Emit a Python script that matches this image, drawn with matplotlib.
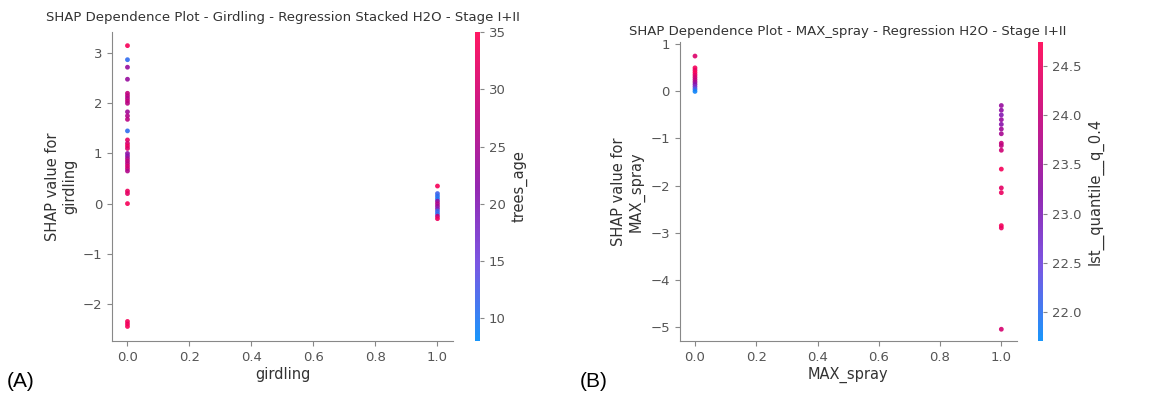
import numpy as np
import matplotlib
matplotlib.use('Agg')
import matplotlib.pyplot as plt
from matplotlib.colors import LinearSegmentedColormap

# ---- Panel A data: girdling vs SHAP, coloured by trees_age
a_x = [0.0] * 31 + [1.0] * 12
a_shap = [3.15, 2.87, 2.72, 2.48, 2.20, 2.15, 2.10, 2.05, 2.00, 1.83, 1.75, 1.68,
          1.45, 1.27, 1.20, 1.15, 1.10, 1.00, 0.95, 0.90, 0.85, 0.80, 0.75, 0.70,
          0.65, 0.25, 0.20, 0.00, -2.35, -2.40, -2.45,
          0.35, 0.20, 0.15, 0.10, 0.05, 0.00, -0.05, -0.10, -0.15, -0.20, -0.25, -0.30]
a_age = [34, 11, 23, 23, 28, 27, 26, 28, 27, 24, 26, 27,
         11, 32, 30, 33, 31, 22, 21, 25, 28, 27, 30, 29,
         26, 33, 32, 34, 34, 33, 34,
         34, 12, 11, 10, 22, 26, 24, 20, 12, 11, 28, 33]

# ---- Panel B data: MAX_spray vs SHAP, coloured by lst__quantile__q_0.4
b_x = [0.0] * 12 + [1.0] * 16
b_shap = [0.75, 0.50, 0.45, 0.40, 0.35, 0.30, 0.25, 0.20, 0.15, 0.10, 0.05, 0.00,
          -0.30, -0.40, -0.50, -0.60, -0.70, -0.80, -0.90, -1.10, -1.15, -1.25,
          -1.65, -2.05, -2.15, -2.85, -2.90, -5.05]
b_lst = [24.3, 24.6, 24.5, 24.7, 24.4, 24.2, 24.0, 23.6, 23.2, 22.8, 22.2, 21.8,
         23.4, 23.3, 23.1, 23.4, 23.2, 23.5, 23.6, 24.0, 23.9, 24.1,
         24.6, 24.4, 24.5, 24.6, 24.5, 24.2]

# shap-like red/blue colormap
red_blue = LinearSegmentedColormap.from_list(
    'red_blue', ['#008bfb', '#6c44e0', '#8a10a8', '#c4007a', '#ff0052'])

fig = plt.figure(figsize=(11.52, 3.93), dpi=100)

txt = '#333333'
tick_c = '#555555'


def dep_plot(ax_pos, cb_pos, x, y, c, vmin, vmax, ylim, yticks, cticks,
             title, xlabel, ylabel, clabel, panel, panel_x, title_pad):
    ax = fig.add_axes(ax_pos)
    sc = ax.scatter(x, y, c=c, cmap=red_blue, vmin=vmin, vmax=vmax,
                    s=12, linewidths=0, alpha=0.9)
    ax.set_xlim(-0.05, 1.05)
    ax.set_ylim(*ylim)
    ax.set_xticks([0.0, 0.2, 0.4, 0.6, 0.8, 1.0])
    ax.set_yticks(yticks)
    for s in ['top', 'right']:
        ax.spines[s].set_visible(False)
    for s in ['left', 'bottom']:
        ax.spines[s].set_color('#888888')
    ax.tick_params(colors='#888888', labelcolor=tick_c, labelsize=9.5)
    ax.set_title(title, fontsize=9.5, color=txt, pad=title_pad)
    ax.set_xlabel(xlabel, fontsize=10.5, color=txt, labelpad=2)
    ax.set_ylabel(ylabel, fontsize=10.5, color=txt)

    # colorbar on its own thin axes
    cax = fig.add_axes(cb_pos)
    cb = fig.colorbar(sc, cax=cax, ticks=cticks)
    cb.outline.set_visible(False)
    cax.tick_params(colors='#888888', labelcolor=tick_c, labelsize=9.5, length=3)
    cb.set_label(clabel, fontsize=10.5, color=txt)

    fig.text(panel_x, 0.015, panel, fontsize=15, family='Liberation Sans')
    return ax


dep_plot([0.0972, 0.1323, 0.296, 0.786], [0.4123, 0.1323, 0.0043, 0.786],
         a_x, a_shap, a_age, 8, 35, (-2.74, 3.42), [-2, -1, 0, 1, 2, 3],
         [10, 15, 20, 25, 30, 35],
         'SHAP Dependence Plot - Girdling - Regression Stacked H2O - Stage I+II',
         'girdling', 'SHAP value for\ngirdling', 'trees_age', '(A)', 0.006, 8)

dep_plot([0.590, 0.1323, 0.2925, 0.761], [0.901, 0.1323, 0.0043, 0.761],
         b_x, b_shap, b_lst, 21.71, 24.74, (-5.3, 1.05), [-5, -4, -3, -2, -1, 0, 1],
         [22.0, 22.5, 23.0, 23.5, 24.0, 24.5],
         'SHAP Dependence Plot - MAX_spray - Regression H2O - Stage I+II',
         'MAX_spray', 'SHAP value for\nMAX_spray', 'lst__quantile__q_0.4', '(B)', 0.503, 5)

fig.savefig('out.png', dpi=100, facecolor='white')
